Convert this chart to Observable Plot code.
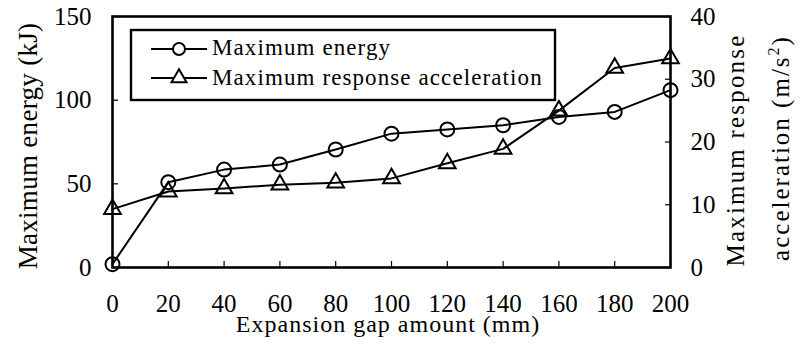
<!DOCTYPE html>
<html>
<head>
<meta charset="utf-8">
<script src="https://cdn.jsdelivr.net/npm/d3@7"></script>
<script src="https://cdn.jsdelivr.net/npm/@observablehq/plot@0.6"></script>
<style>
  html, body { margin: 0; padding: 0; background: #fff; }
  #chart svg, #chart svg text { font-family: "Liberation Serif", "Times New Roman", serif !important; }
</style>
</head>
<body>
<div id="chart"></div>
<script>
const gap = [0, 20, 40, 60, 80, 100, 120, 140, 160, 180, 200];
const maxEnergy = [2, 51, 58.5, 61.5, 70.5, 80, 82.5, 85, 90, 93, 106];
const maxAccel = [9.3, 12.1, 12.6, 13.2, 13.5, 14.2, 16.6, 18.9, 25, 31.8, 33.3];
const xTicks = [0, 20, 40, 60, 80, 100, 120, 140, 160, 180, 200];
const leftTicks = [0, 50, 100, 150];
const rightTicks = [0, 10, 20, 30, 40];
const seriesNames = ["Maximum energy", "Maximum response acceleration"];
const xTitle = "Expansion gap amount (mm)";
const yLeftTitle = "Maximum energy (kJ)";
const yRightTitle1 = "Maximum response";
const yRightTitle2 = "acceleration (m/s";

const ratio = 150 / 40; // right axis -> left axis units
const energyData = gap.map((g, i) => ({x: g, y: maxEnergy[i]}));
const accelData = gap.map((g, i) => ({x: g, y: maxAccel[i] * ratio}));

const FONT = '"Liberation Serif", "Times New Roman", serif';
const fs = 25;
const chart = Plot.plot({
  width: 800,
  height: 352,
  marginLeft: 112,
  marginRight: 130,
  marginTop: 16,
  marginBottom: 85,
  style: {fontFamily: FONT, fontSize: fs + "px", color: "#000", background: "#fff"},
  x: {domain: [0, 200]},
  y: {domain: [0, 150]},
  marks: [
    // inward ticks
    Plot.axisX(xTicks, {tickSize: 6, dy: -6, text: null, strokeWidth: 1.2, label: null}),
    Plot.axisX(xTicks, {tickSize: 0, tickPadding: 27, fontSize: fs, fontFamily: FONT, label: null}),
    Plot.axisY(leftTicks, {anchor: "left", tickSize: 6, dx: 6, text: null, strokeWidth: 1.2, label: null}),
    Plot.axisY(leftTicks, {anchor: "left", tickSize: 0, tickPadding: 21, fontSize: fs, fontFamily: FONT, label: null}),
    Plot.axisY(rightTicks.map(v => v * ratio), {anchor: "right", tickSize: 6, dx: -6, text: null, strokeWidth: 1.2, label: null}),
    Plot.axisY(rightTicks.map(v => v * ratio), {anchor: "right", tickSize: 0, tickPadding: 20, fontSize: fs, fontFamily: FONT, label: null, tickFormat: d => Math.round(d / ratio)}),
    Plot.frame({stroke: "#000", strokeWidth: 2.6}),
    Plot.line(energyData, {x: "x", y: "y", stroke: "#000", strokeWidth: 2}),
    Plot.line(accelData, {x: "x", y: "y", stroke: "#000", strokeWidth: 2}),
    Plot.dot(energyData, {x: "x", y: "y", symbol: "circle", r: 7, fill: "none", stroke: "#000", strokeWidth: 2}),
    Plot.dot(accelData, {x: "x", y: "y", symbol: "triangle", r: 6.2, fill: "none", stroke: "#000", strokeWidth: 2})
  ]
});
document.getElementById("chart").appendChild(chart);

const svg = d3.select(chart);
const title = (transform, size, spacing) => svg.append("text")
  .attr("transform", transform).attr("text-anchor", "middle").attr("font-family", FONT)
  .attr("font-size", size).attr("letter-spacing", spacing).attr("fill", "#000");
// Axis titles
title("translate(37,146) rotate(-90)", 27, 0.3).text(yLeftTitle);
title("translate(388,332)", 24, 1.0).text(xTitle);
title("translate(744,150) rotate(-90)", 25, 2.2).text(yRightTitle1);
const t2 = title("translate(789,148) rotate(-90)", 25, 2);
t2.append("tspan").text(yRightTitle2);
t2.append("tspan").attr("dy", -10).attr("font-size", 16).text("2");
t2.append("tspan").attr("dy", 10).text(")");

// Legend
const lg = svg.append("g");
lg.append("rect").attr("x", 131).attr("y", 30).attr("width", 424).attr("height", 70)
  .attr("fill", "#fff").attr("stroke", "#000").attr("stroke-width", 2.4);
const symC = d3.symbol(d3.symbolCircle, Math.PI * 6 * 6)();
const symT = d3.symbol(d3.symbolTriangle, Math.PI * 5.6 * 5.6)();
[[symC, 49, 55, seriesNames[0]], [symT, 78, 85, seriesNames[1]]].forEach(([sym, y, yb, name]) => {
  lg.append("line").attr("x1", 151).attr("x2", 207).attr("y1", y).attr("y2", y)
    .attr("stroke", "#000").attr("stroke-width", 2);
  lg.append("path").attr("d", sym).attr("transform", `translate(179,${y})`)
    .attr("fill", "#fff").attr("stroke", "#000").attr("stroke-width", 2);
  lg.append("text").attr("x", 212).attr("y", yb).attr("text-anchor", "start").attr("font-family", FONT)
    .attr("font-size", 23).attr("letter-spacing", 1.1).attr("fill", "#000").text(name);
});
</script>
</body>
</html>
